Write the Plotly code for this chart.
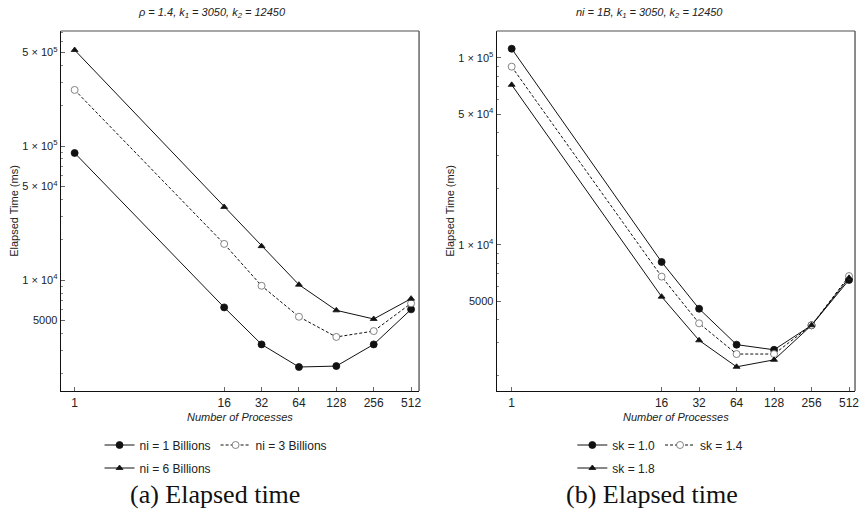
import numpy as np
import plotly.graph_objects as go

# Process counts (x) shared by both panels
procs = [1, 16, 32, 64, 128, 256, 512]

# Panel (a): rho = 1.4, varying number of items
ni_1b = [88700, 6250, 3310, 2244, 2280, 3310, 6040]
ni_3b = [262000, 18600, 9060, 5320, 3760, 4160, 6700]
ni_6b = [520000, 35100, 17900, 9230, 5940, 5120, 7260]

# Panel (b): ni = 1B, varying skew
sk_10 = [112000, 8110, 4560, 2930, 2750, 3720, 6500]
sk_14 = [89800, 6770, 3810, 2610, 2610, 3720, 6820]
sk_18 = [71800, 5290, 3090, 2230, 2430, 3720, 6670]

x_ticks = [1, 16, 32, 64, 128, 256, 512]
y_ticks_a = [5000, 1e4, 5e4, 1e5, 5e5]
y_text_a = ["5000", "1 × 10<sup>4</sup>", "5 × 10<sup>4</sup>", "1 × 10<sup>5</sup>", "5 × 10<sup>5</sup>"]
y_ticks_b = [5000, 1e4, 5e4, 1e5]
y_text_b = ["5000", "1 × 10<sup>4</sup>", "5 × 10<sup>4</sup>", "1 × 10<sup>5</sup>"]

minor_vals = [m * 10 ** e for e in range(3, 6) for m in range(2, 10)]

FONT = "Liberation Sans, Arial, sans-serif"
SERIF = "Liberation Serif, DejaVu Serif, serif"
W, H = 865, 514

fig = go.Figure()

def add_series(x, y, name, xa, ya, symbol, dash, legend, filled=True):
    fig.add_trace(go.Scatter(
        x=x, y=y, name=name, mode="lines+markers",
        xaxis=xa, yaxis=ya, legend=legend,
        line=dict(color="#111111", width=1, dash=dash),
        marker=dict(symbol=symbol, size=7 if symbol == "circle" else 6,
                    color="#111111" if filled else "white",
                    line=dict(color="#111111" if filled else "#666666", width=0.8)),
    ))

DASH = "3px,2px"
add_series(procs, ni_1b, "ni = 1 Billions", "x", "y", "circle", "solid", "legend")
add_series(procs, ni_3b, "ni = 3 Billions", "x", "y", "circle", DASH, "legend", filled=False)
add_series(procs, ni_6b, "ni = 6 Billions", "x", "y", "triangle-up", "solid", "legend2")
add_series(procs, sk_10, "sk = 1.0", "x2", "y2", "circle", "solid", "legend3")
add_series(procs, sk_14, "sk = 1.4", "x2", "y2", "circle", DASH, "legend3", filled=False)
add_series(procs, sk_18, "sk = 1.8", "x2", "y2", "triangle-up", "solid", "legend4")

# plot frames in pixels: (left, right, top, bottom)
frame_a = (61, 421, 31, 391)
frame_b = (499, 859, 31, 391)

def xdom(fr):
    return [fr[0] / W, fr[1] / W]

def ydom(fr):
    return [1 - fr[3] / H, 1 - fr[2] / H]

def xaxis(fr, rng):
    return dict(
        type="log", domain=xdom(fr), range=rng,
        tickvals=x_ticks, ticktext=[str(v) for v in x_ticks],
        ticks="inside", ticklen=4, tickwidth=1, tickcolor="#666",
        showline=True, linecolor="#111", linewidth=1.2,
        showgrid=False, zeroline=False,
        tickfont=dict(family=FONT, size=12, color="#222"),
        title=dict(text="<i>Number of Processes</i>", font=dict(family=FONT, size=11, color="#222"), standoff=4),
    )

def yaxis(fr, rng, tv, tt, anchor):
    return dict(
        type="log", domain=ydom(fr), range=rng, anchor=anchor,
        tickvals=tv, ticktext=tt,
        ticks="inside", ticklen=4, tickwidth=1, tickcolor="#666",
        minor=dict(tickvals=minor_vals, ticks="inside", ticklen=2, tickcolor="#888", showgrid=False),
        showline=True, linecolor="#111", linewidth=1.2,
        showgrid=False, zeroline=False,
        tickfont=dict(family=FONT, size=11, color="#222"),
        title=dict(text="Elapsed Time (ms)", font=dict(family=FONT, size=11, color="#222"), standoff=1),
    )

lx = lambda px: px / W
ly = lambda py: 1 - py / H

leg_common = dict(orientation="h", font=dict(family=FONT, size=12, color="#222"),
                  bgcolor="rgba(0,0,0,0)", xanchor="left", yanchor="middle",
                  itemwidth=30, tracegroupgap=0)

fig.update_layout(
    width=W, height=H, margin=dict(l=0, r=0, t=0, b=0),
    paper_bgcolor="white", plot_bgcolor="white",
    font=dict(family=FONT, color="#222"),
    xaxis=xaxis(frame_a, [np.log10(2 ** -0.372), np.log10(2 ** 9.213)]) | dict(anchor="y"),
    yaxis=yaxis(frame_a, [3.172, 5.858], y_ticks_a, y_text_a, "x"),
    xaxis2=xaxis(frame_b, [np.log10(2 ** -0.40), np.log10(2 ** 9.16)]) | dict(anchor="y2"),
    yaxis2=yaxis(frame_b, [3.219, 5.144], y_ticks_b, y_text_b, "x2"),
    legend=leg_common | dict(x=lx(100), y=ly(445)),
    legend2=leg_common | dict(x=lx(100), y=ly(468)),
    legend3=leg_common | dict(x=lx(575), y=ly(445)),
    legend4=leg_common | dict(x=lx(575), y=ly(468)),
    showlegend=True,
)

# gray top and right borders of each frame
for xr, yr in [("x domain", "y domain"), ("x2 domain", "y2 domain")]:
    fig.add_shape(type="line", xref=xr, yref=yr, x0=0, x1=1, y0=1, y1=1,
                  line=dict(color="#888", width=1.5))
    fig.add_shape(type="line", xref=xr, yref=yr, x0=1, x1=1, y0=0, y1=1,
                  line=dict(color="#666", width=1.5))

def note(px, py, text, family, size, color="#222"):
    fig.add_annotation(x=lx(px), y=ly(py), xref="paper", yref="paper", showarrow=False,
                       xanchor="center", yanchor="middle", text=text,
                       font=dict(family=family, size=size, color=color))

# panel headings and captions
note(213, 13, "<i>ρ = 1.4, k<sub>1</sub> = 3050, k<sub>2</sub> = 12450</i>", FONT, 11)
note(653, 13, "<i>ni = 1B, k<sub>1</sub> = 3050, k<sub>2</sub> = 12450</i>", FONT, 11)
note(216, 494, "(a) Elapsed time", SERIF, 26, "#111")
note(655, 494, "(b) Elapsed time", SERIF, 26, "#111")

fig.write_html("out.html")
